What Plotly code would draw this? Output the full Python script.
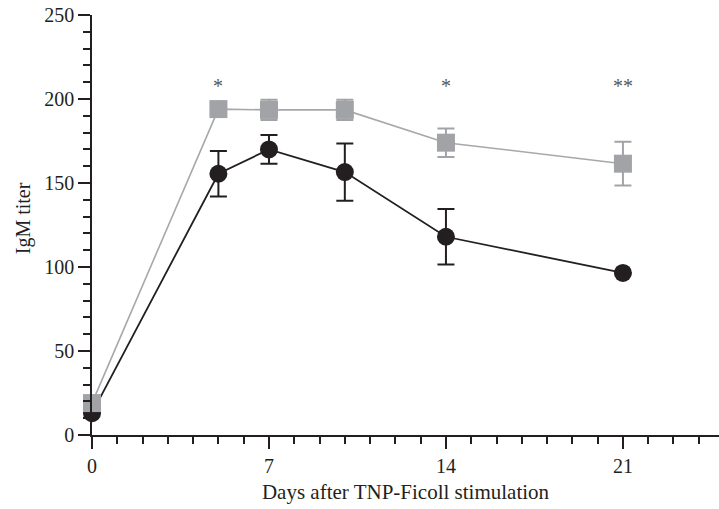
import plotly.graph_objects as go

# IgM titer after TNP-Ficoll stimulation (mean ± error)
days = [0, 5, 7, 10, 14, 21]
black_titer = [13, 155.5, 170, 156.5, 118, 96.5]
black_err = [0, 13.5, 8.5, 17, 16.5, 0]
grey_titer = [19, 194, 193.5, 193.5, 174, 161.5]
grey_err = [0, 0, 6, 6, 8.5, 13]

# significance marks
sig_days = [5, 14, 21]
sig_labels = ["*", "*", "**"]
sig_y = 208

x_ticks = [0, 7, 14, 21]
y_ticks = [0, 50, 100, 150, 200, 250]

INK = "#231f20"
GREY = "#a2a3a6"
GREY_LINE = "#a7a8aa"
FONT = "Liberation Serif"

fig = go.Figure()

fig.add_trace(go.Scatter(
    x=days, y=black_titer, mode="lines+markers",
    line=dict(color=INK, width=1.8),
    marker=dict(symbol="circle", size=18, color=INK),
    error_y=dict(type="data", array=black_err, visible=True,
                 color=INK, thickness=2, width=8.5),
    cliponaxis=False, showlegend=False,
))

fig.add_trace(go.Scatter(
    x=days, y=grey_titer, mode="lines+markers",
    line=dict(color=GREY_LINE, width=1.6),
    marker=dict(symbol="square", size=18, color=GREY),
    error_y=dict(type="data", array=grey_err, visible=True,
                 color=GREY, thickness=2, width=8.5),
    cliponaxis=False, showlegend=False,
))

for d, s in zip(sig_days, sig_labels):
    fig.add_annotation(x=d, y=sig_y, text=s, showarrow=False,
                       font=dict(family=FONT, size=20, color="#58595b"),
                       xanchor="center", yanchor="middle")

# y-axis title, placed left of the tick labels
fig.add_annotation(xref="paper", yref="y", x=(23 - 92) / 627, y=129,
                   text="IgM titer", textangle=-90, showarrow=False,
                   font=dict(family=FONT, size=20, color=INK),
                   xanchor="center", yanchor="middle")

fig.update_layout(
    width=719, height=509,
    margin=dict(l=92, r=0, t=15, b=74),
    paper_bgcolor="white", plot_bgcolor="white",
    font=dict(family=FONT, size=20, color=INK),
    xaxis=dict(
        range=[0, 24.8], tickmode="array", tickvals=x_ticks,
        ticktext=[str(v) for v in x_ticks],
        ticks="outside", ticklen=12, tickwidth=1.5, tickcolor=INK,
        showline=True, linecolor=INK, linewidth=1.5,
        showgrid=False, zeroline=False,
        minor=dict(dtick=1, tick0=0, ticks="outside", ticklen=7,
                   tickwidth=1.5, tickcolor=INK, showgrid=False),
        title=dict(text="Days after TNP-Ficoll stimulation",
                   font=dict(family=FONT, size=21, color=INK), standoff=9),
    ),
    yaxis=dict(
        range=[0, 250], tickmode="array", tickvals=y_ticks,
        ticktext=[str(v) for v in y_ticks],
        ticks="outside", ticklen=12, tickwidth=1.5, tickcolor=INK,
        showline=True, linecolor=INK, linewidth=1.5,
        showgrid=False, zeroline=False,
        minor=dict(dtick=10, tick0=0, ticks="outside", ticklen=7,
                   tickwidth=1.5, tickcolor=INK, showgrid=False),
    ),
)

fig.write_html("out.html")
